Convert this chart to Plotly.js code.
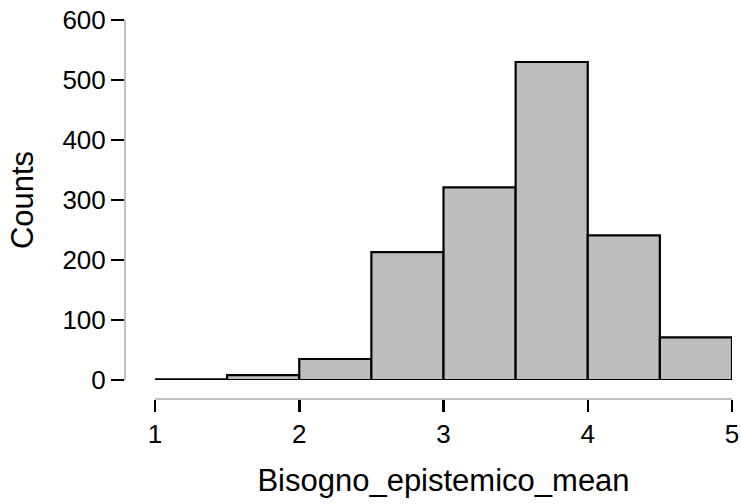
<!DOCTYPE html>
<html><head><meta charset="utf-8">
<script src="https://cdn.plot.ly/plotly-3.0.1.min.js"></script>
<style>html,body{margin:0;padding:0;background:#fff}</style>
</head><body><div id="chart" style="width:741px;height:504px"></div>
<script>
const binCenters = [1.25, 1.75, 2.25, 2.75, 3.25, 3.75, 4.25, 4.75];
const counts = [1, 8, 35, 213, 321, 530, 241, 71];
const xTicks = [1, 2, 3, 4, 5];
const yTicks = [0, 100, 200, 300, 400, 500, 600];
const binWidth = 0.5;

const fam = 'Liberation Sans, Arial, sans-serif';
const tickFont = {family: fam, size: 26, color: '#000'};
const titleFont = {family: fam, size: 31, color: '#000'};
Plotly.newPlot('chart', [{
  type: 'bar', x: binCenters, y: counts, width: binWidth,
  marker: {color: '#bebebe', line: {color: '#000', width: 2.2}},
  hoverinfo: 'none'
}], {
  width: 741, height: 504,
  margin: {l: 125, r: 9, t: 20, b: 105},
  paper_bgcolor: '#fff', plot_bgcolor: '#fff',
  showlegend: false, font: tickFont,
  xaxis: {
    range: [1, 5], domain: [30/607, 1], anchor: 'free', position: 0,
    tickvals: xTicks, ticktext: xTicks.map(String),
    showgrid: false, zeroline: false, showline: true, linecolor: '#c0c0c0', linewidth: 2,
    ticks: 'outside', ticklen: 12, tickwidth: 2.5, tickcolor: '#000',
    tickfont: tickFont,
    title: {text: 'Bisogno_epistemico_mean', font: titleFont, standoff: 20}
  },
  yaxis: {
    range: [0, 600], domain: [19/379, 1], anchor: 'free', position: 0,
    tickvals: yTicks, ticktext: yTicks.map(String),
    showgrid: false, zeroline: false, showline: true, linecolor: '#c0c0c0', linewidth: 2,
    ticks: 'outside', ticklen: 13, tickwidth: 2.5, tickcolor: '#000',
    tickfont: tickFont,
    title: {text: 'Counts', font: titleFont, standoff: 19}
  }
}, {displayModeBar: false, staticPlot: true});
</script></body></html>
